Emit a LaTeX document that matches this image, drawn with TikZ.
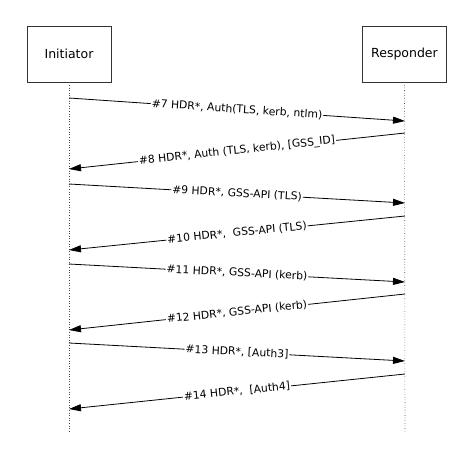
\documentclass[tikz,border=0pt]{standalone}
\usepackage{fontspec}
\setmainfont{DejaVu Sans}
\usetikzlibrary{arrows.meta}
\begin{document}
\begin{tikzpicture}[x=1pt,y=-1pt,
  actor/.style={draw=black!80,line width=0.7pt,minimum width=84pt,minimum height=56pt,inner sep=0pt,font=\fontsize{12.5}{14}\selectfont},
  lifeline/.style={draw=black!70,line width=0.6pt,dotted},
  msg/.style={draw=black,line width=0.8pt,-{Triangle[length=12pt,width=7pt]}},
  lbl/.style={sloped,midway,fill=white,inner sep=1pt,font=\fontsize{10.8}{12}\selectfont}]
\useasboundingbox (0,0) rectangle (474,461);
\node[actor] (init) at (69,54) {Initiator};
\node[actor] (resp) at (404.5,54) {Responder};
\coordinate (iend) at (69,433);
\coordinate (rend) at (405,433);
\draw[lifeline] (init.south) -- (iend);
\draw[lifeline] (resp.south) -- (rend);
% message endpoints
\coordinate (a7) at (69,98);   \coordinate (b7) at (405,121);
\coordinate (a8) at (405,133); \coordinate (b8) at (69,169);
\coordinate (a9) at (69,184);  \coordinate (b9) at (405,203);
\coordinate (a10) at (405,216); \coordinate (b10) at (69,250);
\coordinate (a11) at (69,264);  \coordinate (b11) at (405,282);
\coordinate (a12) at (405,294); \coordinate (b12) at (69,330);
\coordinate (a13) at (69,343);  \coordinate (b13) at (405,361);
\coordinate (a14) at (405,374); \coordinate (b14) at (69,409);
\draw[msg] (a7) -- node[lbl] {\#7 HDR*, Auth(TLS, kerb, ntlm)} (b7);
\draw[msg] (a8) -- node[lbl] {\#8 HDR*, Auth (TLS, kerb), [GSS\_ID]} (b8);
\draw[msg] (a9) -- node[lbl] {\#9 HDR*, GSS-API (TLS)} (b9);
\draw[msg] (a10) -- node[lbl] {\#10 HDR*,\ \ GSS-API (TLS)} (b10);
\draw[msg] (a11) -- node[lbl] {\#11 HDR*, GSS-API (kerb)} (b11);
\draw[msg] (a12) -- node[lbl] {\#12 HDR*, GSS-API (kerb)} (b12);
\draw[msg] (a13) -- node[lbl] {\#13 HDR*, [Auth3]} (b13);
\draw[msg] (a14) -- node[lbl] {\#14 HDR*,\ \ [Auth4]} (b14);
\end{tikzpicture}
\end{document}
